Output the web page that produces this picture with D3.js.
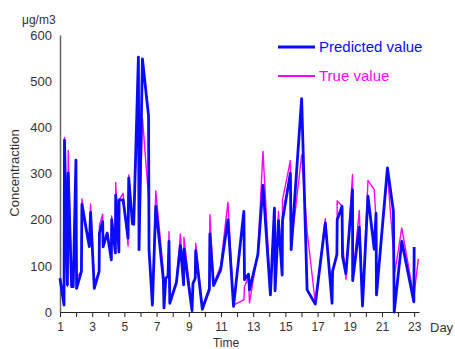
<!DOCTYPE html>
<html><head><meta charset="utf-8">
<script src="https://cdn.jsdelivr.net/npm/d3@7"></script>
<style>body{margin:0;background:#fff}svg{display:block;font-family:"Liberation Sans",Arial,sans-serif}</style>
</head><body><svg id="c" width="455" height="349"></svg>
<script>
const days = [1.0,1.25,1.28,1.46,1.51,1.72,1.82,1.99,2.03,2.33,2.36,2.82,2.90,3.13,3.43,3.45,3.65,3.68,3.93,4.19,4.21,4.44,4.46,4.66,4.67,4.92,5.23,5.27,5.50,5.58,5.87,5.91,6.12,6.50,6.53,6.74,6.95,7.42,7.46,7.57,7.71,7.77,7.82,8.23,8.48,8.68,8.70,9.20,9.26,9.40,9.43,9.84,10.28,10.31,10.54,10.98,11.43,11.78,12.42,12.46,12.71,12.77,13.29,13.61,14.07,14.32,14.36,14.57,14.80,14.82,15.31,15.36,16.01,16.35,16.86,17.48,17.90,17.93,18.20,18.22,18.52,18.55,18.76,19.17,19.18,19.59,19.79,20.13,20.52,20.63,20.66,21.34,21.71,21.76,22.23,22.98,23.00,23.26];
const predicted = [73,15,372,59,301,55,55,329,51,88,233,142,216,51,88,171,196,141,171,113,200,128,253,130,243,243,160,290,191,190,552,135,548,425,135,15,229,70,9,73,78,153,19,64,144,59,136,3,62,73,133,6,49,169,57,91,200,12,218,70,82,48,124,274,37,225,46,198,80,198,301,135,462,48,17,193,19,88,124,200,229,120,83,265,68,184,13,251,136,214,37,312,218,0,153,22,141,null];
const trueValue = [73,20,378,55,350,55,55,325,75,88,245,140,234,65,85,187,212,150,165,118,208,130,280,130,243,257,143,297,191,195,500,140,420,250,135,20,262,88,15,73,78,174,22,66,169,65,162,5,62,73,149,10,55,211,60,100,238,15,26,55,75,20,130,348,40,225,50,218,85,243,328,140,340,175,19,202,22,88,130,241,229,150,71,298,70,220,15,285,265,200,40,300,133,77,182,33,40,115];
const yTicks = [0,100,200,300,400,500,600];
const xTicks = d3.range(1,24);
const xLabels = [1,3,5,7,9,11,13,15,17,19,21,23];

const svg = d3.select("#c");
const x = d3.scaleLinear().domain([1,23.3]).range([60,419]);
const y = d3.scaleLinear().domain([0,600]).range([312,35]);
const txt = "#333";

// y axis
const ya = svg.append("g").attr("transform","translate(60,0)")
  .call(d3.axisLeft(y).tickValues(yTicks).tickSize(0).tickPadding(8));
ya.select(".domain").attr("stroke","#666").attr("stroke-width",1.5);
ya.selectAll("text").attr("font-size",13).attr("fill",txt).attr("font-family","Liberation Sans, Arial, sans-serif");

// x axis
const xa = svg.append("g").attr("transform","translate(0,312)")
  .call(d3.axisBottom(x).tickValues(xTicks).tickSize(5).tickSizeOuter(0)
    .tickFormat(d => xLabels.includes(d) ? d : ""));
xa.select(".domain").attr("stroke","#222").attr("stroke-width",1.2);
xa.selectAll(".tick line").attr("stroke","#222");
xa.selectAll("text").attr("font-size",12).attr("fill",txt).attr("dy","0.9em").attr("font-family","Liberation Sans, Arial, sans-serif");

svg.append("text").attr("x",22).attr("y",24).attr("font-size",12).attr("fill",txt).text("μg/m3");
svg.append("text").attr("transform","translate(19,173) rotate(-90)").attr("text-anchor","middle")
  .attr("font-size",13).attr("fill",txt).text("Concentraction");
svg.append("text").attr("x",430).attr("y",332).attr("font-size",13).attr("fill",txt).text("Day");
svg.append("text").attr("x",226).attr("y",347).attr("text-anchor","middle").attr("font-size",12).attr("fill",txt).text("Time");

const pts = days.map((d,i)=>({d, p:predicted[i], t:trueValue[i]}));
const lineT = d3.line().defined(o=>o.t!=null).x(o=>x(o.d)).y(o=>y(o.t));
const lineP = d3.line().defined(o=>o.p!=null).x(o=>x(o.d)).y(o=>y(o.p));
svg.append("path").datum(pts).attr("d",lineT).attr("fill","none").attr("stroke","#ff00ff").attr("stroke-width",1.4).attr("stroke-linejoin","round");
svg.append("path").datum(pts).attr("d",lineP).attr("fill","none").attr("stroke","#0a0aff").attr("stroke-width",2.8).attr("stroke-linejoin","round");

// legend
const leg = [{name:"Predicted value", c:"#0a0aff", w:2.8, y:47},{name:"True value", c:"#ff00ff", w:2, y:76}];
leg.forEach(l=>{
  svg.append("line").attr("x1",278).attr("x2",315).attr("y1",l.y).attr("y2",l.y).attr("stroke",l.c).attr("stroke-width",l.w);
  svg.append("text").attr("x",319).attr("y",l.y+5).attr("font-size",15).attr("fill",l.c).text(l.name);
});
</script></body></html>
